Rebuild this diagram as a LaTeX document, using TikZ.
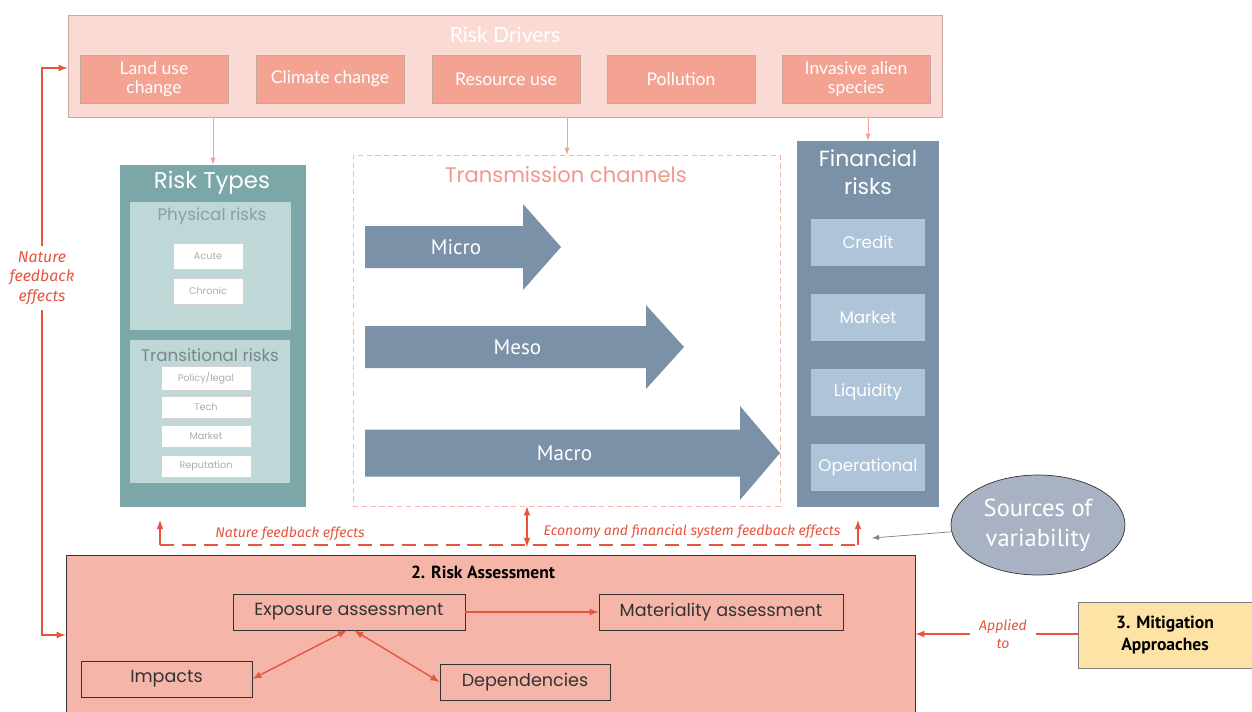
\documentclass[tikz,border=0pt]{standalone}
\usepackage{fontspec}
\setmainfont{Lato}
\newfontfamily\mont{Poppins}
\newfontfamily\tahoma{PT Sans}
\newfontfamily\candara{Fira Sans}
\usetikzlibrary{shapes.geometric}

\definecolor{drvback}{HTML}{FBDAD4}
\definecolor{drvedge}{HTML}{C8A7A2}
\definecolor{drvfill}{HTML}{F4A393}
\definecolor{tealdark}{HTML}{7BA7A9}
\definecolor{teallight}{HTML}{BFD7D6}
\definecolor{tealtext}{HTML}{8C9FA2}
\definecolor{slate}{HTML}{7A91A8}
\definecolor{slatelight}{HTML}{AFC4D8}
\definecolor{fbred}{HTML}{E8553F}
\definecolor{assess}{HTML}{F5B5A8}
\definecolor{srcgray}{HTML}{A8B2C2}
\definecolor{mitig}{HTML}{FDE3A5}
\definecolor{salmontext}{HTML}{F3978A}

\begin{document}
\begin{tikzpicture}[x=0.02cm, y=-0.02cm,
  drv/.style={draw=drvedge, fill=drvfill, text=white, align=center,
    minimum width=2.96cm, minimum height=0.96cm, inner sep=1pt,
    font=\fontsize{10}{11}\selectfont},
  riskbox/.style={draw=gray!35, fill=white, text=gray!65, inner sep=0pt,
    font=\mont\fontsize{5.5}{6}\selectfont},
  finbox/.style={fill=slatelight, text=white, minimum width=2.28cm,
    minimum height=0.94cm, font=\mont\fontsize{9.5}{11}\selectfont},
  asmbox/.style={draw=black!80, fill=assess, text=black!80, minimum height=0.72cm,
    font=\mont\fontsize{10}{12}\selectfont},
  fblabel/.style={text=fbred, align=center, inner sep=1pt,
    font=\candara\itshape\fontsize{8}{10}\selectfont},
  redarr/.style={fbred, thick, -latex},
  thinarr/.style={drvfill, -latex}]

\useasboundingbox[fill=white] (0,0) rectangle (1252,711);

%%%%%%%%%%%%%%%%%%%%%%%%%%%%
% drivers
\node[draw=drvedge, fill=drvback, minimum width=17.48cm, minimum height=2.04cm]
  (drivers) at (505,66) {};
\node[text=white, font=\fontsize{12}{14}\selectfont] (drvtitle) at (505,35) {Risk Drivers};
\node[drv] (land) at (154,79) {Land use\\change};
\node[drv] (climate) at (330,79) {Climate change};
\node[drv] (resource) at (506,79) {Resource use};
\node[drv] (pollution) at (681,79) {Pollution};
\node[drv] (invasive) at (856,79) {Invasive alien\\species};

%%%%%%%%%%%%%%%%%%%%%%%%%%%%
% risk types
\node[fill=tealdark, minimum width=3.72cm, minimum height=6.84cm] (types) at (213,336) {};
\node[text=white, font=\mont\fontsize{13}{15}\selectfont] at (212,183) {Risk Types};
\node[fill=teallight, minimum width=3.22cm, minimum height=2.56cm] (phys) at (210.5,266) {};
\node[text=tealtext, font=\mont\fontsize{9.5}{11}\selectfont] at (212,216) {Physical risks};
\node[riskbox, minimum width=1.4cm, minimum height=0.52cm] (acute) at (208,256) {Acute};
\node[riskbox, minimum width=1.4cm, minimum height=0.52cm] (chronic) at (208,291) {Chronic};
\node[fill=teallight, minimum width=3.2cm, minimum height=2.86cm] (trans) at (210,411.5) {};
\node[text=tealtext!85!black, font=\mont\fontsize{9.5}{11}\selectfont] at (210,355) {Transitional risks};
\node[riskbox, minimum width=1.8cm, minimum height=0.48cm] (policy) at (206,378) {Policy/legal};
\node[riskbox, minimum width=1.8cm, minimum height=0.44cm] (tech) at (206,407) {Tech};
\node[riskbox, minimum width=1.8cm, minimum height=0.44cm] (market) at (206,436) {Market};
\node[riskbox, minimum width=1.8cm, minimum height=0.44cm] (reput) at (206,466) {Reputation};

%%%%%%%%%%%%%%%%%%%%%%%%%%%%
% transmission channels
\node[draw=salmontext!70, densely dashed, minimum width=8.54cm, minimum height=7.02cm]
  (channels) at (566.5,330.5) {};
\node[text=salmontext, font=\mont\fontsize{12}{14}\selectfont] at (566,175) {Transmission channels};
\foreach \e/\t/\c/\b/\h/\n in {523/561/247/21/43/Micro, 646/684/347/21/42/Meso,
    740/780/453/23.5/47/Macro}
{
  \fill[slate] (365,\c-\b) -- (\e,\c-\b) -- (\e,\c-\h) -- (\t,\c)
    -- (\e,\c+\h) -- (\e,\c+\b) -- (365,\c+\b) -- cycle;
  \node[text=white, font=\tahoma\fontsize{12}{14}\selectfont] at ({(365+\e)/2+12},\c) {\n};
}

%%%%%%%%%%%%%%%%%%%%%%%%%%%%
% financial risks
\node[fill=slate, minimum width=2.84cm, minimum height=7.32cm] (fin) at (868,324) {};
\node[text=white, align=center, font=\mont\fontsize{12.5}{16}\selectfont] at (868,172)
  {Financial\\risks};
\node[finbox] (credit) at (868,242.5) {Credit};
\node[finbox] (fmarket) at (868,317.5) {Market};
\node[finbox] (liquid) at (868,392.5) {Liquidity};
\node[finbox] (oper) at (868,467.5) {Operational};

\draw[thinarr] (drivers.south -| types.north) -- (types.north);
\draw[thinarr] (drivers.south -| 567,0) -- (channels.north -| 567,0);
\draw[thinarr] (drivers.south -| fin.north) -- (fin.north);

%%%%%%%%%%%%%%%%%%%%%%%%%%%%
% feedback effects
\coordinate (fbl) at (160,545);
\coordinate (fbm) at (527,547);
\coordinate (fbr) at (858,545);
\draw[fbred, line width=1.1pt, dash pattern=on 8pt off 4.5pt] (fbl) -- (fbr);
\draw[redarr] (fbl) -- ++(0,-25);
\draw[redarr] (fbr) -- ++(0,-25);
\draw[fbred, thick, latex-latex] (channels.south -| fbm) -- (fbm);
\node[fblabel] (natfb) at (290,534) {Nature feedback effects};
\node[fblabel] (ecofb) at (692,532) {Economy and financial system feedback effects};

\node[ellipse, draw=black!80, fill=srcgray, minimum width=3.48cm, minimum height=2cm,
  inner sep=0pt, text=white, align=center, font=\tahoma\fontsize{14}{17}\selectfont]
  (src) at (1038,525) {Sources of\\variability};
\coordinate (srcend) at (872,538);
\draw[gray, -latex] (src) -- (srcend);

%%%%%%%%%%%%%%%%%%%%%%%%%%%%
% risk assessment
\node[draw=black!80, fill=assess, minimum width=16.98cm, minimum height=3.26cm]
  (ra) at (490.5,636.5) {};
\node[font=\tahoma\bfseries\fontsize{10}{12}\selectfont] at (483,572) {2. Risk Assessment};
\node[asmbox, minimum width=4.64cm] (expo) at (349,612) {Exposure assessment};
\node[asmbox, minimum width=4.88cm] (mat) at (721,612) {Materiality assessment};
\node[asmbox, minimum width=3.42cm] (imp) at (166.5,679) {Impacts};
\node[asmbox, minimum width=3.4cm] (dep) at (525,682) {Dependencies};
\draw[redarr] (expo) -- (mat);
\draw[fbred, thick, latex-latex] ([xshift=-0.04cm]expo.south) -- (imp.east);
\draw[fbred, thick, latex-latex] ([xshift=0.1cm]expo.south) -- (dep.west);

% left loop
\node[fblabel, fill=white, inner sep=3pt, font=\candara\itshape\fontsize{9}{11}\selectfont]
  (natloop) at (42,278) {Nature\\feedback\\effects};
\draw[redarr] (natloop.north) |- (drivers.west |- 0,68);
\draw[redarr] (natloop.south) |- (ra.west |- 0,635);

%%%%%%%%%%%%%%%%%%%%%%%%%%%%
% mitigation
\node[draw=gray, fill=mitig, minimum width=3.48cm, minimum height=1.32cm, align=center,
  font=\tahoma\bfseries\fontsize{10}{13}\selectfont] (mit) at (1165,635)
  {3. Mitigation\\Approaches};
\node[fblabel, inner sep=5pt] (applied) at (1003,634) {Applied\\to};
\draw[fbred, thick] (mit.west |- applied) -- (applied);
\draw[redarr] (applied) -- (ra.east |- applied);
\end{tikzpicture}
\end{document}
